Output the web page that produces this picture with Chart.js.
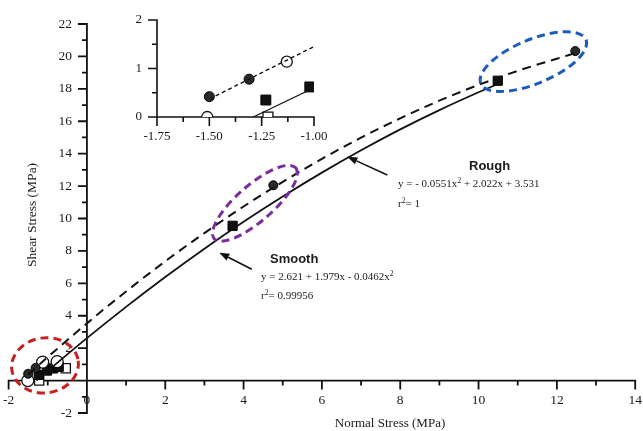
<!DOCTYPE html>
<html>
<head>
<meta charset="utf-8">
<script src="https://cdn.jsdelivr.net/npm/chart.js@4.4.1/dist/chart.umd.min.js"></script>
<style>
  html, body { margin: 0; padding: 0; background: #fff; }
  #wrap { position: relative; width: 643px; height: 431px; overflow: hidden; }
  #mainChart { position: absolute; left: 0; top: 0; }
  #insetChart { position: absolute; left: 120px; top: 5px; }
  .note { position: absolute; font-family: "Liberation Serif", "Times New Roman", serif; font-size: 11px;
          color: #1a1a1a; white-space: nowrap; line-height: 1; }
  .note.title { font-family: "Liberation Sans", Arial, sans-serif; font-weight: bold; font-size: 13px; }
  .note sup { font-size: 7.5px; vertical-align: baseline; position: relative; top: -4px; }
</style>
</head>
<body>
<div id="wrap">
  <canvas id="mainChart" width="643" height="431"></canvas>
  <canvas id="insetChart" width="210" height="145"></canvas>
  <div class="note title" style="left:270px;top:252px">Smooth</div>
  <div class="note" style="left:261px;top:271px">y = 2.621 + 1.979x - 0.0462x<sup>2</sup></div>
  <div class="note" style="left:261px;top:290px">r<sup>2</sup>= 0.99956</div>
  <div class="note title" style="left:469px;top:159px">Rough</div>
  <div class="note" style="left:398px;top:178px">y = - 0.0551x<sup>2</sup> + 2.022x + 3.531</div>
  <div class="note" style="left:398px;top:198px">r<sup>2</sup>= 1</div>
</div>
<script>
/* ---------- data ---------- */

// fitted curves, sampled along the drawn lines
const roughFitX  = [-1.5, -1, 0, 1, 2, 3, 4, 5, 6, 7, 8, 9, 10, 11, 12, 12.47];
const roughFitY  = [0.37, 1.45, 3.53, 5.50, 7.36, 9.10, 10.74, 12.26, 13.68, 14.99, 16.18, 17.27, 18.24, 19.11, 19.86, 20.2];
const smoothFitX = [-1.29, -1, 0, 1, 2, 3, 4, 5, 6, 7, 8, 9, 10, 10.49];
const smoothFitY = [0, 0.60, 2.62, 4.55, 6.39, 8.14, 9.80, 11.36, 12.83, 14.21, 15.50, 16.69, 17.79, 18.30];

// measured points
const roughFilledX  = [-1.5, -1.31, 4.76, 12.47];
const roughFilledY  = [0.42, 0.78, 12.05, 20.33];
const roughOpenX    = [-1.51, -1.13, -0.76];
const roughOpenY    = [0, 1.14, 1.17];
const smoothFilledX = [-1.23, -1.02, -0.86, -0.72, 3.72, 10.49];
const smoothFilledY = [0.35, 0.62, 0.75, 0.85, 9.55, 18.5];
const smoothOpenX   = [-1.22, -0.54];
const smoothOpenY   = [0, 0.76];

// main axes ticks
const xMajorTicks  = [-2, 0, 2, 4, 6, 8, 10, 12, 14];
const xTickLabels  = ['-2', '0', '2', '4', '6', '8', '10', '12', '14'];
const xMinorTicks  = [-1, 1, 3, 5, 7, 9, 11, 13];
const yMajorTicks  = [-2, 2, 4, 6, 8, 10, 12, 14, 16, 18, 20, 22];
const yTickLabels  = ['-2', '2', '4', '6', '8', '10', '12', '14', '16', '18', '20', '22'];
const yMinorTicks  = [-1, 1, 3, 5, 7, 9, 11, 13, 15, 17, 19, 21];

// inset axes ticks
const insetXMajor  = [-1.75, -1.5, -1.25, -1.0];
const insetXLabels = ['-1.75', '-1.50', '-1.25', '-1.00'];
const insetXMinor  = [-1.625, -1.375, -1.125];
const insetYMajor  = [0, 1, 2];
const insetYLabels = ['0', '1', '2'];
const insetYMinor  = [0.5, 1.5];

/* ---------- annotations ---------- */

const ellipses = [
  { cx: -1.07, cy: 0.94, rx: 33.5, ry: 27.5, rot: -8, color: '#c8201f' },
  { cx: 4.29, cy: 10.94, rx: 54, ry: 18, rot: -41, color: '#7a2e9e' },
  { cx: 11.40, cy: 19.68, rx: 57, ry: 22, rot: -22.6, color: '#1b5dbf' }
];
const arrows = [
  { from: [7.67, 12.69], to: [6.65, 13.81] },
  { from: [4.21, 6.87], to: [3.38, 7.89] }
];

/* ---------- helpers ---------- */

const zip = (xs, ys) => xs.map((x, i) => ({ x: x, y: ys[i] }));

function drawCrossAxes(chart, o) {
  const ctx = chart.ctx;
  const sx = chart.scales.x, sy = chart.scales.y;
  const px = v => sx.getPixelForValue(v);
  const py = v => sy.getPixelForValue(v);
  const ox = px(o.originX), oy = py(o.originY);

  ctx.save();
  ctx.strokeStyle = '#111';
  ctx.lineWidth = o.lineWidth;
  ctx.beginPath();
  ctx.moveTo(px(sx.min) - o.lineWidth / 2, oy);
  ctx.lineTo(px(sx.max) + o.lineWidth / 2, oy);
  ctx.moveTo(ox, py(sy.min) + o.lineWidth / 2);
  ctx.lineTo(ox, py(sy.max) - o.lineWidth / 2);
  o.xMajor.forEach(v => { ctx.moveTo(px(v), oy); ctx.lineTo(px(v), oy + o.majorLen); });
  o.xMinor.forEach(v => { ctx.moveTo(px(v), oy); ctx.lineTo(px(v), oy + o.minorLen); });
  o.yMajor.forEach(v => { ctx.moveTo(ox, py(v)); ctx.lineTo(ox - o.majorLen, py(v)); });
  o.yMinor.forEach(v => { ctx.moveTo(ox, py(v)); ctx.lineTo(ox - o.minorLen, py(v)); });
  ctx.stroke();

  ctx.fillStyle = '#1a1a1a';
  ctx.font = o.font;
  ctx.textBaseline = 'middle';
  ctx.textAlign = 'center';
  o.xMajor.forEach((v, i) => ctx.fillText(o.xLabels[i], px(v), oy + o.xLabelGap));
  ctx.textAlign = 'right';
  o.yMajor.forEach((v, i) => ctx.fillText(o.yLabels[i], ox - o.yLabelGap, py(v)));
  ctx.restore();
}

function drawArrow(ctx, x1, y1, x2, y2) {
  const ang = Math.atan2(y2 - y1, x2 - x1);
  const len = 10, half = 3.8;
  const bx = x2 - Math.cos(ang) * len, by = y2 - Math.sin(ang) * len;
  ctx.beginPath();
  ctx.moveTo(x1, y1);
  ctx.lineTo(bx, by);
  ctx.stroke();
  ctx.beginPath();
  ctx.moveTo(x2, y2);
  ctx.lineTo(bx + Math.sin(ang) * half, by - Math.cos(ang) * half);
  ctx.lineTo(bx - Math.sin(ang) * half, by + Math.cos(ang) * half);
  ctx.closePath();
  ctx.fill();
}

const crossAxes = {
  id: 'crossAxes',
  beforeDatasetsDraw(chart, args, opts) {
    drawCrossAxes(chart, opts);
  },
  afterDatasetsDraw(chart, args, opts) {
    if (!opts.extras) return;
    const ctx = chart.ctx;
    const sx = chart.scales.x, sy = chart.scales.y;

    ctx.save();
    ctx.lineWidth = 3;
    ctx.setLineDash([8, 5]);
    ellipses.forEach(e => {
      ctx.strokeStyle = e.color;
      ctx.beginPath();
      ctx.ellipse(sx.getPixelForValue(e.cx), sy.getPixelForValue(e.cy), e.rx, e.ry,
        e.rot * Math.PI / 180, 0, Math.PI * 2);
      ctx.stroke();
    });
    ctx.setLineDash([]);

    ctx.strokeStyle = '#111';
    ctx.fillStyle = '#111';
    ctx.lineWidth = 1.6;
    arrows.forEach(a => drawArrow(ctx,
      sx.getPixelForValue(a.from[0]), sy.getPixelForValue(a.from[1]),
      sx.getPixelForValue(a.to[0]), sy.getPixelForValue(a.to[1])));

    // axis titles
    ctx.fillStyle = '#1a1a1a';
    ctx.font = '13px "Liberation Serif", "Times New Roman", serif';
    ctx.textAlign = 'center';
    ctx.textBaseline = 'middle';
    ctx.fillText('Normal Stress (MPa)', 390, 424);
    ctx.translate(32, 215);
    ctx.rotate(-Math.PI / 2);
    ctx.font = '13.5px "Liberation Serif", "Times New Roman", serif';
    ctx.fillText('Shear Stress (MPa)', 0, 0);
    ctx.restore();
  }
};

function markerSets(big) {
  return [
    {
      data: zip(roughFitX, roughFitY), showLine: true, pointRadius: 0,
      borderColor: '#111', borderWidth: big ? 2 : 1.4, borderDash: big ? [9, 6] : [4, 3],
      cubicInterpolationMode: 'monotone'
    },
    {
      data: zip(smoothFitX, smoothFitY), showLine: true, pointRadius: 0,
      borderColor: '#111', borderWidth: big ? 1.8 : 1.2,
      cubicInterpolationMode: 'monotone'
    },
    {
      data: zip(roughFilledX, roughFilledY), pointStyle: 'circle', pointRadius: big ? 4.5 : 5,
      backgroundColor: '#2a2a2a', borderColor: '#000', borderWidth: 1
    },
    {
      data: zip(roughOpenX, roughOpenY), pointStyle: 'circle', pointRadius: big ? 6 : 5.5,
      backgroundColor: '#fff', borderColor: '#111', borderWidth: 1.3
    },
    {
      data: zip(smoothFilledX, smoothFilledY), pointStyle: 'rect', pointRadius: big ? 6.5 : 7,
      backgroundColor: '#111', borderColor: '#000', borderWidth: 1
    },
    {
      data: zip(smoothOpenX, smoothOpenY), pointStyle: 'rect', pointRadius: big ? 6.5 : 7,
      backgroundColor: '#fff', borderColor: '#111', borderWidth: 1.3
    }
  ];
}

/* ---------- main chart ---------- */

new Chart(document.getElementById('mainChart'), {
  type: 'scatter',
  data: { datasets: markerSets(true) },
  options: {
    responsive: false,
    animation: false,
    layout: { padding: { left: 8.6, right: 6, top: 24, bottom: 18 } },
    scales: {
      x: { type: 'linear', min: -2, max: 14, display: false },
      y: { type: 'linear', min: -2, max: 22, display: false }
    },
    plugins: {
      legend: { display: false },
      tooltip: { enabled: false },
      crossAxes: {
        originX: 0, originY: 0, lineWidth: 1.8, majorLen: 9, minorLen: 5,
        xMajor: xMajorTicks, xLabels: xTickLabels, xMinor: xMinorTicks,
        yMajor: yMajorTicks, yLabels: yTickLabels, yMinor: yMinorTicks,
        xLabelGap: 19.5, yLabelGap: 15,
        font: '13.5px "Liberation Serif", "Times New Roman", serif',
        extras: true
      }
    }
  },
  plugins: [crossAxes]
});

/* ---------- inset ---------- */

new Chart(document.getElementById('insetChart'), {
  type: 'scatter',
  data: { datasets: markerSets(false) },
  options: {
    responsive: false,
    animation: false,
    layout: { padding: { left: 37, right: 16, top: 15, bottom: 33 } },
    datasets: { scatter: { clip: 0 } },
    scales: {
      x: { type: 'linear', min: -1.75, max: -1.0, display: false },
      y: { type: 'linear', min: 0, max: 2, display: false }
    },
    plugins: {
      legend: { display: false },
      tooltip: { enabled: false },
      crossAxes: {
        originX: -1.75, originY: 0, lineWidth: 1.6, majorLen: 9, minorLen: 5,
        xMajor: insetXMajor, xLabels: insetXLabels, xMinor: insetXMinor,
        yMajor: insetYMajor, yLabels: insetYLabels, yMinor: insetYMinor,
        xLabelGap: 20, yLabelGap: 15,
        font: '13px "Liberation Serif", "Times New Roman", serif',
        extras: false
      }
    }
  },
  plugins: [crossAxes]
});
</script>
</body>
</html>
